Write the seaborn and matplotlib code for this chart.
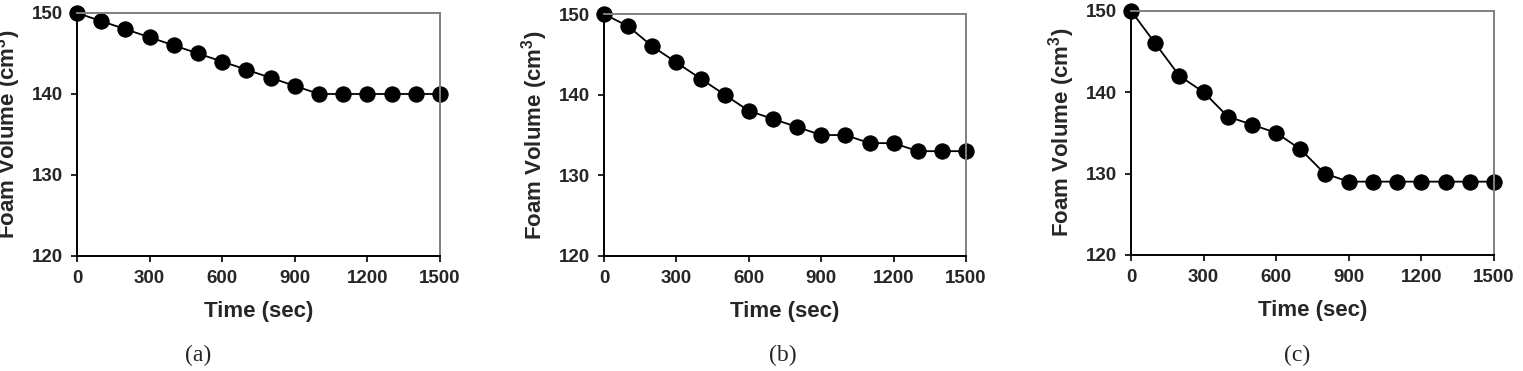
import numpy as np
import pandas as pd
import matplotlib
matplotlib.use('Agg')
import matplotlib.pyplot as plt
import seaborn as sns

# ── Data ─────────────────────────────────────────────────────────────────────
TIME_SEC = [0, 100, 200, 300, 400, 500, 600, 700, 800, 900,
            1000, 1100, 1200, 1300, 1400, 1500]
FOAM_A = [150, 149, 148, 147, 146, 145, 144, 143, 142, 141,
          140, 140, 140, 140, 140, 140]
FOAM_B = [150, 148.5, 146, 144, 142, 140, 138, 137, 136, 135,
          135, 134, 134, 133, 133, 133]
FOAM_C = [150, 146, 142, 140, 137, 136, 135, 133, 130, 129,
          129, 129, 129, 129, 129, 129]
CAPTIONS = ['(a)', '(b)', '(c)']
X_TICKS = [0, 300, 600, 900, 1200, 1500]
Y_TICKS = [120, 130, 140, 150]

sns.set_theme(style='white')
plt.rcParams['font.family'] = ['Liberation Sans', 'DejaVu Sans']
plt.rcParams['mathtext.fontset'] = 'custom'
plt.rcParams['mathtext.bf'] = 'Liberation Sans:bold'
plt.rcParams['mathtext.rm'] = 'Liberation Sans:bold'

fig = plt.figure(figsize=(15.23, 3.71), dpi=100)

# axes boxes in figure fractions (left, bottom, width, height)
boxes = [(0.0506, 0.310, 0.2383, 0.655),
         (0.3966, 0.310, 0.2377, 0.652),
         (0.7426, 0.313, 0.2383, 0.658)]
caption_x = [0.130, 0.514, 0.852]

for series, box, cap, cx in zip([FOAM_A, FOAM_B, FOAM_C], boxes, CAPTIONS, caption_x):
    ax = fig.add_axes(box)
    df = pd.DataFrame({'time': TIME_SEC, 'foam': series})
    sns.lineplot(data=df, x='time', y='foam', ax=ax, color='black',
                 linewidth=1.3, marker='o', markersize=11,
                 markeredgecolor='black', markerfacecolor='black',
                 clip_on=False)
    ax.set_xlim(0, 1500)
    ax.set_ylim(120, 150)
    ax.set_xticks(X_TICKS)
    ax.set_yticks(Y_TICKS)
    ax.set_xticklabels([str(t) for t in X_TICKS], fontweight='bold', fontsize=13.5)
    ax.set_yticklabels([str(t) for t in Y_TICKS], fontweight='bold', fontsize=13.5)
    ax.tick_params(axis='both', direction='out', length=4, width=1.2,
                   color='black', bottom=True, left=True, pad=6)
    for side in ['left', 'bottom']:
        ax.spines[side].set_color('black')
        ax.spines[side].set_linewidth(1.4)
    for side in ['top', 'right']:
        ax.spines[side].set_color('#808080')
        ax.spines[side].set_linewidth(1.4)
    ax.set_xlabel('Time (sec)', fontweight='bold', fontsize=16, labelpad=10)
    ax.set_ylabel(r'Foam Volume (cm$^\mathbf{3}$)', fontweight='bold', fontsize=16)
    ax.yaxis.set_label_coords(-0.148, 0.5)
    fig.text(cx, 0.043, cap, ha='center', va='center',
             fontsize=17, family=['Liberation Serif', 'DejaVu Serif'])

fig.savefig('out.png', dpi=100)
